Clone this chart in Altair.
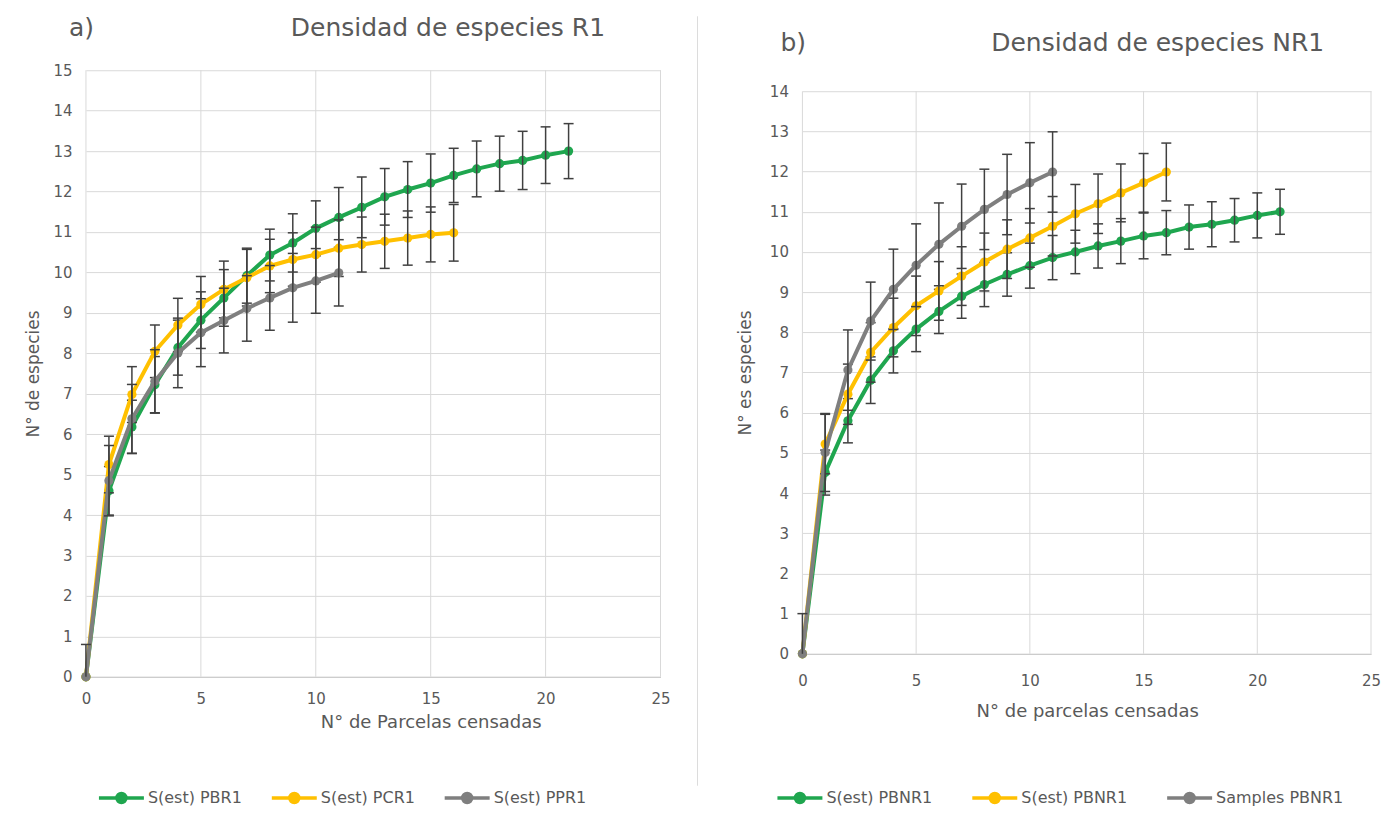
import altair as alt
import pandas as pd

FONT = "DejaVu Sans"
TXT = "#595959"
GRID = "#d9d9d9"
ERRC = "#404040"
COLORS = ["#1fa64f", "#ffc000", "#7f7f7f"]
X_TICKS = [0, 5, 10, 15, 20, 25]

# ---- panel a) ----
A_LETTER = "a)"
A_TITLE = "Densidad de especies R1"
A_XTITLE = "N° de Parcelas censadas"
A_YTITLE = "N° de especies"
A_KEYS = ["a1", "a2", "a3"]
A_NAMES = ["S(est) PBR1", "S(est) PCR1", "S(est) PPR1"]
A_PBR1 = [0, 4.6, 6.18, 7.22, 8.14, 8.82, 9.37, 9.92, 10.43, 10.73, 11.09, 11.36, 11.61, 11.87, 12.05, 12.21, 12.4, 12.56, 12.69, 12.77, 12.9, 13.0]
A_PBR1_ERR = [0, 0.6, 0.66, 0.7, 0.68, 0.7, 0.7, 0.68, 0.64, 0.72, 0.68, 0.74, 0.75, 0.7, 0.69, 0.72, 0.67, 0.69, 0.68, 0.72, 0.7, 0.68]
A_PCR1 = [0, 5.25, 6.98, 8.05, 8.7, 9.21, 9.58, 9.87, 10.16, 10.32, 10.44, 10.6, 10.69, 10.77, 10.85, 10.94, 10.98]
A_PCR1_ERR = [0, 0.7, 0.69, 0.65, 0.66, 0.69, 0.7, 0.7, 0.66, 0.66, 0.68, 0.7, 0.68, 0.67, 0.67, 0.68, 0.7]
A_PPR1 = [0, 4.85, 6.38, 7.31, 8.01, 8.51, 8.81, 9.11, 9.37, 9.62, 9.79, 9.99]
A_PPR1_ERR = [0.8, 0.87, 0.85, 0.78, 0.86, 0.84, 0.8, 0.81, 0.8, 0.85, 0.8, 0.82]

# ---- panel b) ----
B_LETTER = "b)"
B_TITLE = "Densidad de especies NR1"
B_XTITLE = "N° de parcelas censadas"
B_YTITLE = "N° es especies"
B_KEYS = ["b1", "b2", "b3"]
B_NAMES = ["S(est) PBNR1", "S(est) PBNR1", "Samples PBNR1"]
B_SEST1 = [0, 4.51, 5.8, 6.81, 7.54, 8.08, 8.52, 8.9, 9.19, 9.44, 9.66, 9.86, 10.0, 10.15, 10.27, 10.4, 10.48, 10.62, 10.69, 10.79, 10.91, 11.0]
B_SEST1_ERR = [0, 0.56, 0.55, 0.58, 0.55, 0.56, 0.55, 0.55, 0.55, 0.54, 0.56, 0.55, 0.54, 0.55, 0.56, 0.57, 0.55, 0.55, 0.56, 0.54, 0.56, 0.56]
B_SEST2 = [0, 5.22, 6.46, 7.5, 8.12, 8.66, 9.03, 9.4, 9.75, 10.07, 10.35, 10.64, 10.95, 11.2, 11.47, 11.72, 11.99]
B_SEST2_ERR = [0, 0.74, 0.75, 0.74, 0.73, 0.74, 0.73, 0.73, 0.72, 0.73, 0.73, 0.74, 0.73, 0.74, 0.72, 0.73, 0.72]
B_SAMP = [0, 5.01, 7.06, 8.28, 9.07, 9.67, 10.19, 10.64, 11.06, 11.43, 11.72, 11.99]
B_SAMP_ERR = [1.0, 0.97, 1.0, 0.97, 1.0, 1.03, 1.03, 1.05, 1.0, 1.0, 1.0, 1.0]

# legend glyph: line with a marker, drawn mostly left of the (small) symbol box
LEG_PATH = "M-4,0L1,0M-1,0A0.5,0.5,0,1,1,-2,0A0.5,0.5,0,1,1,-1,0Z"


def series_df(key, vals, errs):
    rows = []
    for i, (v, e) in enumerate(zip(vals, errs)):
        rows.append({"key": key, "x": i, "y": v, "err": e,
                     "lo": max(0.0, v - e), "hi": v + e})
    return pd.DataFrame(rows)


def label_expr(keys, names):
    expr = "'" + names[-1] + "'"
    for k, n in reversed(list(zip(keys[:-1], names[:-1]))):
        expr = "datum.label == '" + k + "' ? '" + n + "' : " + expr
    return expr


def panel(series, keys, names, w, h, grid_h, ymax, letter, title, xtitle, ytitle,
          letter_x, title_x, title_y, xlab_pad, xtitle_x, xtitle_y, ytitle_x,
          leg_x, leg_y, leg_pad, extra=None):
    ytop = ymax * h / grid_h   # empty band above the top gridline
    xenc = alt.X("x:Q", scale=alt.Scale(domain=[0, 25], nice=False),
                 axis=alt.Axis(values=X_TICKS, title=xtitle, grid=False,
                               ticks=False, domain=True, domainColor="#c8c8c8",
                               labelPadding=xlab_pad, labelFontSize=15, labelColor=TXT,
                               titleFontSize=18, titleColor=TXT, titleFontWeight="normal",
                               titleX=xtitle_x, titleY=xtitle_y, titleBaseline="middle",
                               titleAlign="center", labelFlush=False))
    yenc = alt.Y("y:Q", scale=alt.Scale(domain=[0, ytop], nice=False),
                 axis=alt.Axis(values=list(range(ymax + 1)), title=ytitle, grid=True,
                               gridColor=GRID, ticks=False, domain=False,
                               labelPadding=14, labelFontSize=15, labelColor=TXT,
                               titleFontSize=17, titleColor=TXT, titleFontWeight="normal",
                               titleX=ytitle_x, titleY=h - grid_h / 2, titleAngle=-90,
                               titleBaseline="middle", titleAlign="center"))
    cenc = alt.Color("key:N", scale=alt.Scale(domain=keys, range=COLORS),
                     legend=alt.Legend(orient="none", legendX=leg_x, legendY=leg_y,
                                       direction="horizontal", title=None,
                                       symbolType=LEG_PATH, symbolSize=324,
                                       symbolStrokeWidth=3.5, labelFontSize=16,
                                       labelColor=TXT, labelOffset=2, columnPadding=leg_pad,
                                       padding=0, labelExpr=label_expr(keys, names)))
    layers = []
    gdf = pd.DataFrame({"x": X_TICKS, "y0": [0] * len(X_TICKS), "y1": [ymax] * len(X_TICKS)})
    layers.append(alt.Chart(gdf).mark_rule(color=GRID, strokeWidth=1).encode(
        x=xenc, y=alt.Y("y0:Q"), y2="y1:Q"))
    for key, vals, errs in series:
        d = series_df(key, vals, errs)
        base = alt.Chart(d)
        layers.append(base.mark_line(strokeWidth=4).encode(x=xenc, y=yenc, color=cenc))
        layers.append(base.mark_circle(size=85, opacity=1).encode(x=xenc, y=yenc, color=cenc))
        eb = base.transform_filter("datum.err > 0")
        layers.append(eb.mark_rule(color=ERRC, strokeWidth=1.5).encode(
            x=xenc, y="lo:Q", y2="hi:Q"))
        layers.append(eb.transform_filter("datum.lo > 0").mark_rule(
            color=ERRC, strokeWidth=1.5, xOffset=-5, x2Offset=5).encode(
            x=xenc, x2=alt.X2("x"), y="lo:Q"))
        layers.append(eb.mark_rule(color=ERRC, strokeWidth=1.5, xOffset=-5, x2Offset=5).encode(
            x=xenc, x2=alt.X2("x"), y="hi:Q"))
    layers.append(alt.Chart(pd.DataFrame({"t": [letter]})).mark_text(
        font=FONT, fontSize=25, color=TXT, align="left", baseline="top").encode(
        text="t:N", x=alt.value(letter_x), y=alt.value(title_y)))
    layers.append(alt.Chart(pd.DataFrame({"t": [title]})).mark_text(
        font=FONT, fontSize=25, color=TXT, align="left", baseline="top").encode(
        text="t:N", x=alt.value(title_x), y=alt.value(title_y)))
    if extra is not None:
        layers.append(extra)
    return alt.layer(*layers).properties(width=w, height=h)


sep = alt.Chart(pd.DataFrame({"s": [0]})).mark_rule(color="#dcdcdc", strokeWidth=1).encode(
    x=alt.value(-105), y=alt.value(-54), y2=alt.value(716))

left = panel([("a1", A_PBR1, A_PBR1_ERR), ("a2", A_PCR1, A_PCR1_ERR), ("a3", A_PPR1, A_PPR1_ERR)],
             A_KEYS, A_NAMES, 575, 607, 607, 15, A_LETTER, A_TITLE, A_XTITLE, A_YTITLE,
             letter_x=-17, title_x=205, title_y=-54, xlab_pad=15, xtitle_x=345, xtitle_y=46,
             ytitle_x=-52, leg_x=38, leg_y=717, leg_pad=22)
right = panel([("b1", B_SEST1, B_SEST1_ERR), ("b2", B_SEST2, B_SEST2_ERR), ("b3", B_SAMP, B_SAMP_ERR)],
              B_KEYS, B_NAMES, 569, 584, 563, 14, B_LETTER, B_TITLE, B_XTITLE, B_YTITLE,
              letter_x=-22, title_x=189, title_y=-39, xlab_pad=20, xtitle_x=285, xtitle_y=58,
              ytitle_x=-57, leg_x=0, leg_y=717, leg_pad=32, extra=sep)

chart = alt.hconcat(left, right, spacing=26).resolve_scale(color="independent").properties(
    padding={"left": 17, "top": 7, "right": 0, "bottom": 0}
).configure(font=FONT).configure_view(stroke=None)

chart.save("out.html", embed_options={"renderer": "svg", "actions": False})
